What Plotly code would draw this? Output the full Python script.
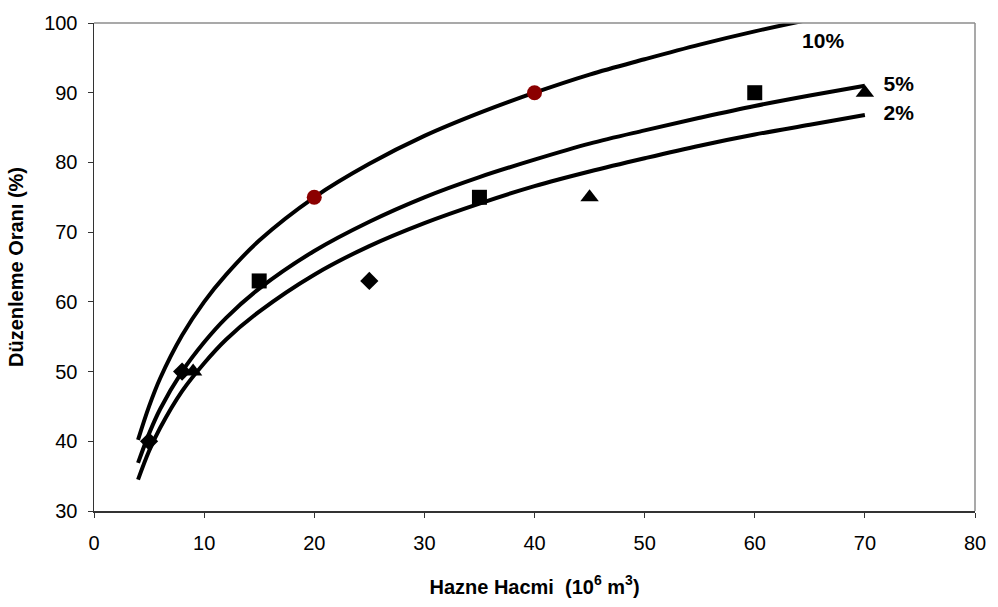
import plotly.graph_objects as go

# Curves
x10 = [4, 5, 6, 8, 10, 12, 15, 20, 25, 30, 35, 40, 45, 50, 55, 60, 65]
y10 = [40.2, 45.0, 49.0, 55.2, 60.0, 63.9, 68.8, 75.0, 79.8, 83.8, 87.1, 90.0, 92.6, 94.8, 96.9, 98.8, 100.5]
x5 = [4, 5, 6, 8, 10, 12, 15, 20, 25, 30, 35, 40, 45, 50, 55, 60, 65, 70]
y5 = [36.9, 41.1, 44.6, 50.0, 54.2, 57.7, 61.9, 67.3, 71.5, 75.0, 77.9, 80.4, 82.7, 84.6, 86.4, 88.1, 89.6, 91.0]
x2 = [4, 5, 6, 8, 10, 12, 15, 20, 25, 30, 35, 40, 45, 50, 55, 60, 65, 70]
y2 = [34.5, 38.6, 41.9, 47.2, 51.2, 54.6, 58.6, 63.9, 68.0, 71.3, 74.1, 76.6, 78.7, 80.6, 82.4, 84.0, 85.4, 86.8]

# Observed points
diamond_x = [5, 8, 25]
diamond_y = [40, 50, 63]
square_x = [15, 35, 60]
square_y = [63, 75, 90]
triangle_x = [9, 45, 70]
triangle_y = [50, 75, 90]
circle_x = [20, 40]
circle_y = [75, 90]

curve_labels = ["10%", "5%", "2%"]
label_x = [64.3, 71.7, 71.7]
label_y = [97.2, 91.0, 86.8]

FONT = "Liberation Sans, Arial, sans-serif"

fig = go.Figure()
for xs, ys in [(x10, y10), (x5, y5), (x2, y2)]:
    fig.add_trace(go.Scatter(x=xs, y=ys, mode="lines",
                             line=dict(color="black", width=4, shape="spline"),
                             showlegend=False, hoverinfo="skip"))

fig.add_trace(go.Scatter(x=diamond_x, y=diamond_y, mode="markers",
                         marker=dict(symbol="diamond", size=14, color="black"), showlegend=False))
fig.add_trace(go.Scatter(x=square_x, y=square_y, mode="markers",
                         marker=dict(symbol="square", size=15, color="black"), showlegend=False))
fig.add_trace(go.Scatter(x=triangle_x, y=triangle_y, mode="markers",
                         marker=dict(symbol="triangle-up", size=16, color="black"), showlegend=False))
fig.add_trace(go.Scatter(x=circle_x, y=circle_y, mode="markers",
                         marker=dict(symbol="circle", size=15, color="#8B0000"), showlegend=False))

fig.add_trace(go.Scatter(x=label_x, y=label_y, mode="text", text=curve_labels,
                         textposition="middle right",
                         textfont=dict(family=FONT, size=21, color="black", weight="bold"),
                         showlegend=False, cliponaxis=False))

# Grey top and right border of plot area
fig.add_shape(type="line", xref="paper", yref="paper", x0=0, x1=1, y0=1, y1=1,
              line=dict(color="#8c8c8c", width=1.5))
fig.add_shape(type="line", xref="paper", yref="paper", x0=1, x1=1, y0=0, y1=1,
              line=dict(color="#8c8c8c", width=1.5))

fig.update_layout(
    width=998, height=607,
    margin=dict(l=94, r=15, t=18, b=92),
    plot_bgcolor="white", paper_bgcolor="white",
    font=dict(family=FONT, color="black"),
    xaxis=dict(range=[0, 80], dtick=10, showgrid=False, zeroline=False,
               showline=True, linecolor="#333333", linewidth=1.5,
               ticks="outside", ticklen=5, tickcolor="#333333",
               tickfont=dict(size=20), ticklabelstandoff=8,
               title=dict(text="Hazne Hacmi  (10<sup>6</sup> m<sup>3</sup>)",
                          font=dict(size=20, weight="bold"), standoff=27)),
    yaxis=dict(range=[30, 100], dtick=10, showgrid=False, zeroline=False,
               showline=True, linecolor="#333333", linewidth=1.5,
               ticks="outside", ticklen=5, tickcolor="#333333",
               tickfont=dict(size=20), ticklabelstandoff=6,
               title=dict(text="Düzenleme Oranı (%)",
                          font=dict(size=20, weight="bold"), standoff=15)),
)

fig.write_html(
    "out.html",
    config={"displayModeBar": False, "staticPlot": True},
    post_script=(
        "document.documentElement.style.margin='0';"
        "document.documentElement.style.padding='0';"
        "document.documentElement.style.overflow='hidden';"
        "document.body.style.margin='0';"
        "document.body.style.padding='0';"
        "document.body.style.overflow='hidden';"
    ),
)
